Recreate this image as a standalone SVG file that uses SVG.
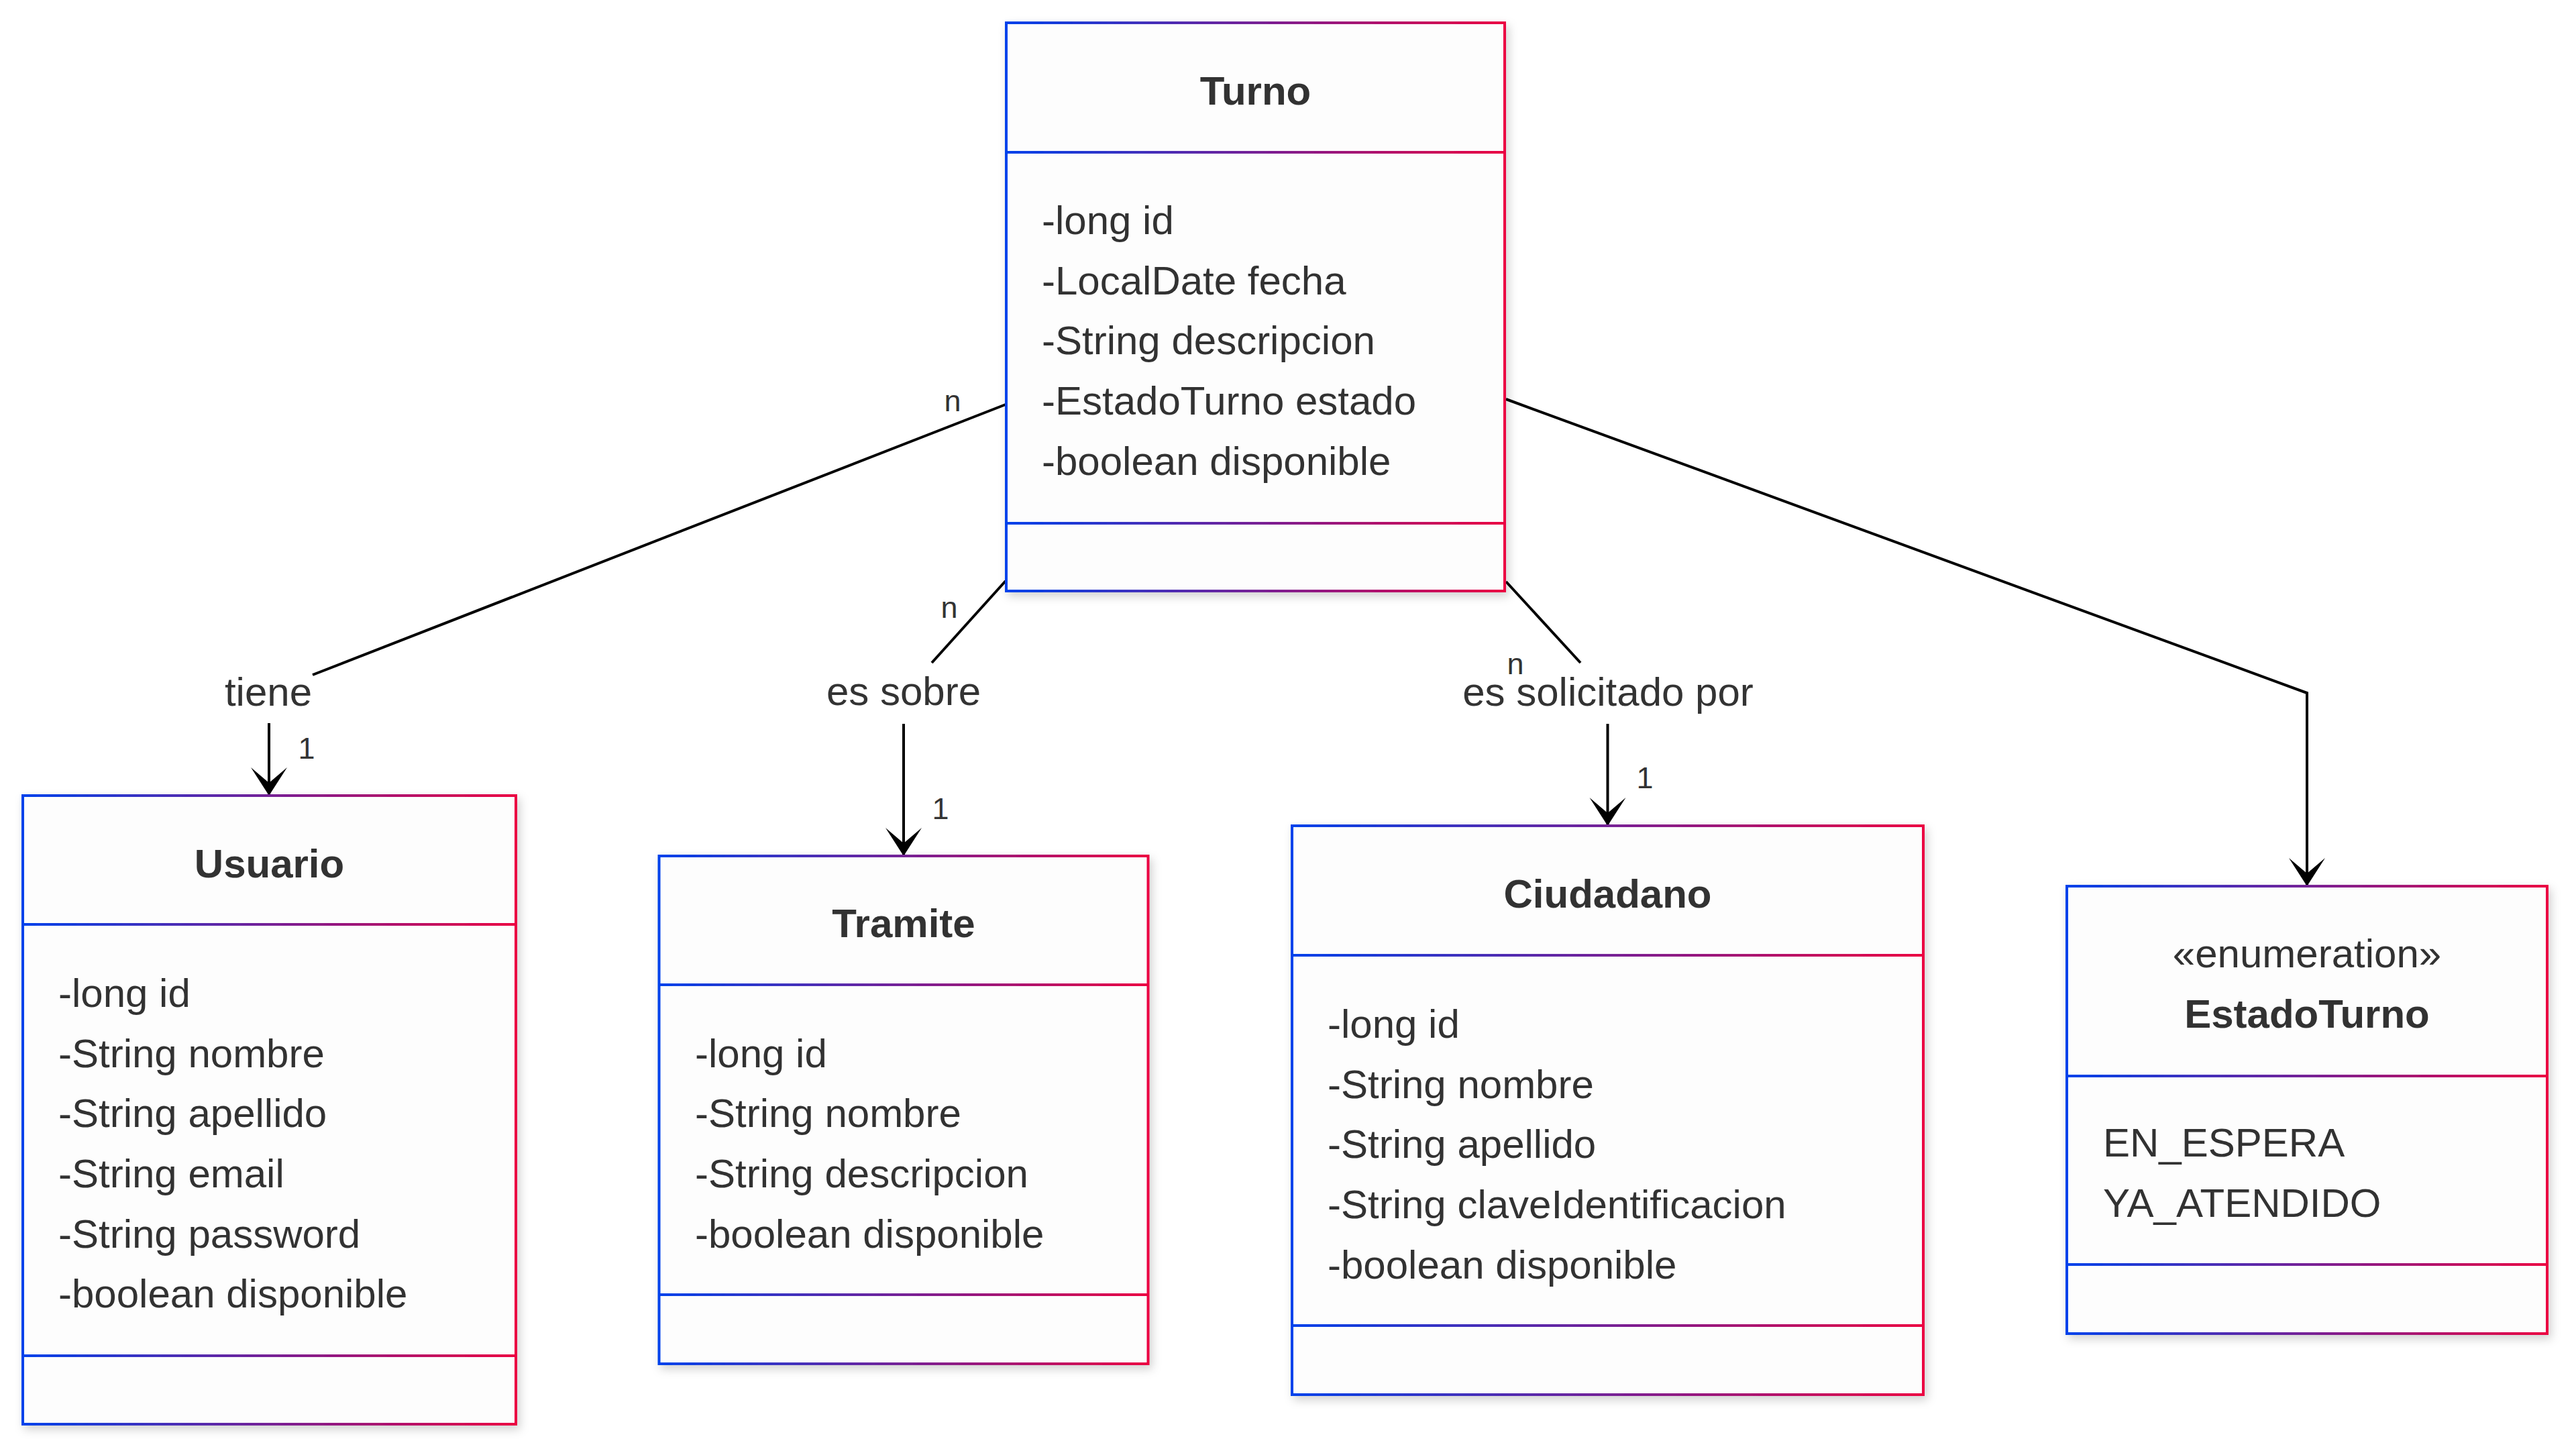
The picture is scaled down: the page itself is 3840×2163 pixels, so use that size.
<svg xmlns="http://www.w3.org/2000/svg" width="3840" height="2163" viewBox="0 0 3840 2163">
<style>
.bg{fill:#ffffff}
.box{fill:#fdfdfd}
.outline{fill:none;stroke:url(#grad);stroke-width:4}
.title{font-family:"Liberation Sans",Arial,Helvetica,sans-serif;font-size:60px;font-weight:bold;fill:#333333;text-anchor:middle}
.stereo{font-family:"Liberation Sans",Arial,Helvetica,sans-serif;font-size:60px;fill:#333333;text-anchor:middle}
.attr{font-family:"Liberation Sans",Arial,Helvetica,sans-serif;font-size:60px;fill:#333333}
.elabel{font-family:"Liberation Sans",Arial,Helvetica,sans-serif;font-size:60px;fill:#333333;text-anchor:middle}
.mult{font-family:"Liberation Sans",Arial,Helvetica,sans-serif;font-size:45px;fill:#333333;text-anchor:middle}
.edge{fill:none;stroke:#000000;stroke-width:4}
</style>
<defs>
<linearGradient id="grad" x1="0" y1="0" x2="1" y2="0">
<stop offset="0" stop-color="#0042eb"/>
<stop offset="1" stop-color="#eb0042"/>
</linearGradient>
<filter id="shadow" x="-10%" y="-10%" width="125%" height="125%">
<feDropShadow dx="4" dy="6" stdDeviation="7" flood-color="#000000" flood-opacity="0.18"/>
</filter>
<marker id="arrow" markerUnits="userSpaceOnUse" viewBox="-44 -30 48 60" refX="0" refY="0" markerWidth="48" markerHeight="60" orient="auto">
<path d="M 0,0 L -42,-27 L -19,0 L -42,27 Z" fill="#000000"/>
</marker>
</defs>
<rect class="bg" x="0" y="0" width="3840" height="2163"/>

<g id="connectors">
<g id="edge-turno-usuario">
<path class="edge" d="M 1499,603 L 466,1006"/>
<path class="edge" d="M 401,1078 L 401,1186" marker-end="url(#arrow)"/>
<text class="elabel" x="400" y="1052">tiene</text>
<text class="mult" x="1420" y="613">n</text>
<text class="mult" x="457" y="1131">1</text>
</g>
<g id="edge-turno-tramite">
<path class="edge" d="M 1499,866 L 1389,988"/>
<path class="edge" d="M 1347,1079 L 1347,1276" marker-end="url(#arrow)"/>
<text class="elabel" x="1347" y="1051">es sobre</text>
<text class="mult" x="1415" y="921">n</text>
<text class="mult" x="1402" y="1221">1</text>
</g>
<g id="edge-turno-ciudadano">
<path class="edge" d="M 2245,867 L 2356,988"/>
<path class="edge" d="M 2396.5,1079 L 2396.5,1231" marker-end="url(#arrow)"/>
<text class="elabel" x="2397" y="1052">es solicitado por</text>
<text class="mult" x="2259" y="1005">n</text>
<text class="mult" x="2452" y="1175">1</text>
</g>
<g id="edge-turno-estado">
<path class="edge" d="M 2245,595 L 3439,1033 L 3439,1321" marker-end="url(#arrow)"/>
</g>
</g>

<g id="node-turno" filter="url(#shadow)">
<rect class="box" x="1500" y="34" width="743" height="847"/>
<path class="outline" d="M 1500,34 H 2243 V 881 H 1500 Z M 1500,227 H 2243 M 1500,780 H 2243"/>
<text class="title" x="1871.5" y="156">Turno</text>
<text class="attr" x="1553" y="349">-long id</text>
<text class="attr" x="1553" y="439">-LocalDate fecha</text>
<text class="attr" x="1553" y="528">-String descripcion</text>
<text class="attr" x="1553" y="618">-EstadoTurno estado</text>
<text class="attr" x="1553" y="708">-boolean disponible</text>
</g>

<g id="node-usuario" filter="url(#shadow)">
<rect class="box" x="34" y="1186" width="735" height="937"/>
<path class="outline" d="M 34,1186 H 769 V 2123 H 34 Z M 34,1378 H 769 M 34,2021 H 769"/>
<text class="title" x="401.5" y="1308">Usuario</text>
<text class="attr" x="87" y="1501">-long id</text>
<text class="attr" x="87" y="1591">-String nombre</text>
<text class="attr" x="87" y="1680">-String apellido</text>
<text class="attr" x="87" y="1770">-String email</text>
<text class="attr" x="87" y="1860">-String password</text>
<text class="attr" x="87" y="1949">-boolean disponible</text>
</g>

<g id="node-tramite" filter="url(#shadow)">
<rect class="box" x="982.5" y="1276" width="729" height="757"/>
<path class="outline" d="M 982.5,1276 H 1711.5 V 2033 H 982.5 Z M 982.5,1468 H 1711.5 M 982.5,1930 H 1711.5"/>
<text class="title" x="1347" y="1397">Tramite</text>
<text class="attr" x="1036" y="1591">-long id</text>
<text class="attr" x="1036" y="1680">-String nombre</text>
<text class="attr" x="1036" y="1770">-String descripcion</text>
<text class="attr" x="1036" y="1860">-boolean disponible</text>
</g>

<g id="node-ciudadano" filter="url(#shadow)">
<rect class="box" x="1926" y="1231" width="941" height="848"/>
<path class="outline" d="M 1926,1231 H 2867 V 2079 H 1926 Z M 1926,1424 H 2867 M 1926,1976 H 2867"/>
<text class="title" x="2396.5" y="1353">Ciudadano</text>
<text class="attr" x="1979" y="1547">-long id</text>
<text class="attr" x="1979" y="1637">-String nombre</text>
<text class="attr" x="1979" y="1726">-String apellido</text>
<text class="attr" x="1979" y="1816">-String claveIdentificacion</text>
<text class="attr" x="1979" y="1906">-boolean disponible</text>
</g>

<g id="node-estadoturno" filter="url(#shadow)">
<rect class="box" x="3081" y="1321" width="716" height="667"/>
<path class="outline" d="M 3081,1321 H 3797 V 1988 H 3081 Z M 3081,1604 H 3797 M 3081,1885 H 3797"/>
<text class="stereo" x="3439" y="1442">«enumeration»</text>
<text class="title" x="3439" y="1532">EstadoTurno</text>
<text class="attr" x="3135" y="1724">EN_ESPERA</text>
<text class="attr" x="3135" y="1814">YA_ATENDIDO</text>
</g>
</svg>
